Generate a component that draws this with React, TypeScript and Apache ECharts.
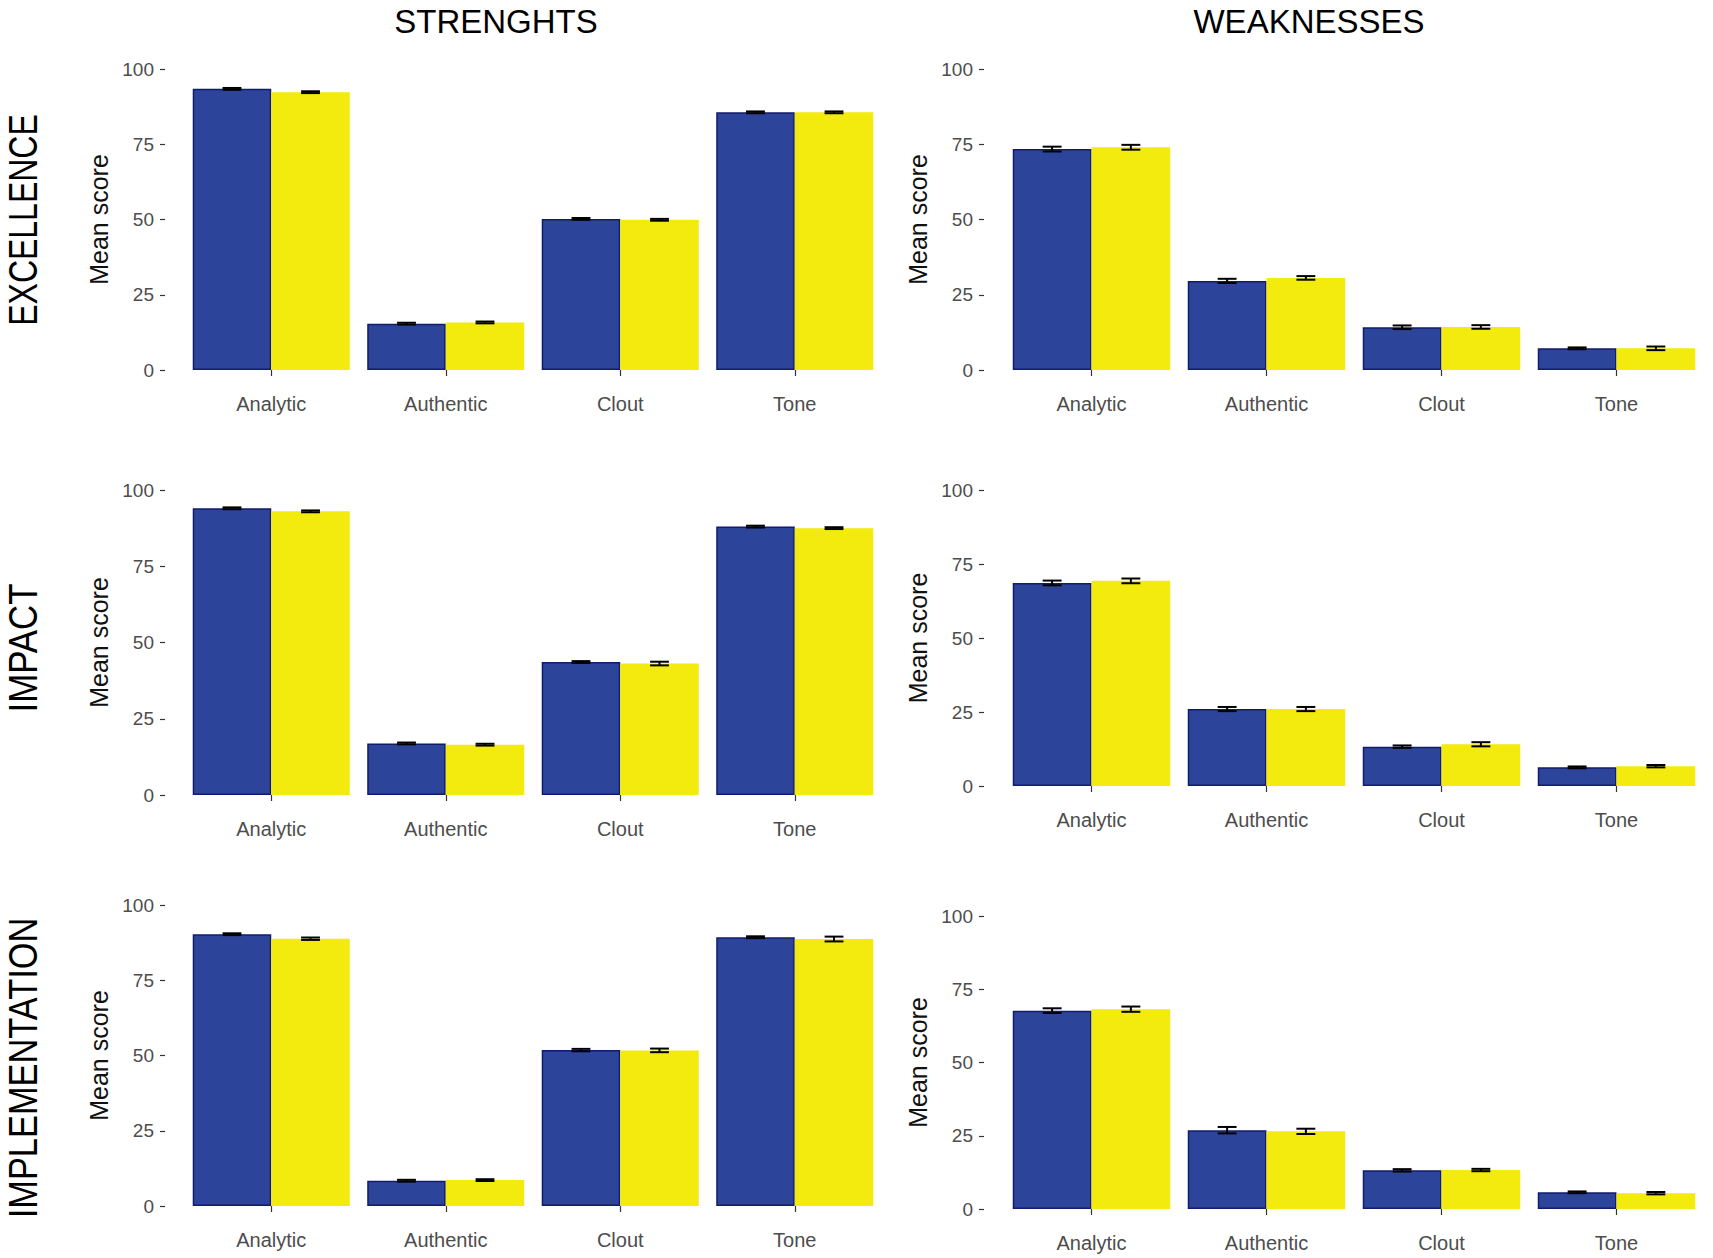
import React, { useEffect, useRef } from "react";
import * as echarts from "echarts";

// ---------- data ----------
const categories = ["Analytic", "Authentic", "Clout", "Tone"];
const yTicks = [0, 25, 50, 75, 100];
const columnTitles = ["STRENGHTS", "WEAKNESSES"];
const rowTitles = ["EXCELLENCE", "IMPACT", "IMPLEMENTATION"];

// Strengths
const excStrBlue = [93.4, 15.4, 50.2, 85.6];
const excStrBlueErr = [0.3, 0.3, 0.3, 0.3];
const excStrYellow = [92.3, 15.8, 49.9, 85.6];
const excStrYellowErr = [0.3, 0.3, 0.3, 0.3];

const impStrBlue = [94.0, 16.9, 43.6, 88.0];
const impStrBlueErr = [0.3, 0.3, 0.3, 0.3];
const impStrYellow = [93.0, 16.5, 43.1, 87.5];
const impStrYellowErr = [0.3, 0.3, 0.6, 0.3];

const implStrBlue = [90.3, 8.4, 51.8, 89.3];
const implStrBlueErr = [0.3, 0.3, 0.4, 0.3];
const implStrYellow = [88.8, 8.6, 51.7, 88.7];
const implStrYellowErr = [0.4, 0.3, 0.6, 0.8];

// Weaknesses
const excWeakBlue = [73.4, 29.6, 14.2, 7.2];
const excWeakBlueErr = [0.8, 0.7, 0.6, 0.3];
const excWeakYellow = [74.0, 30.6, 14.3, 7.2];
const excWeakYellowErr = [0.8, 0.6, 0.6, 0.6];

const impWeakBlue = [68.6, 26.0, 13.3, 6.3];
const impWeakBlueErr = [0.8, 0.7, 0.4, 0.3];
const impWeakYellow = [69.3, 26.0, 14.1, 6.7];
const impWeakYellowErr = [0.8, 0.7, 0.7, 0.4];

const implWeakBlue = [67.7, 26.9, 13.2, 5.7];
const implWeakBlueErr = [0.8, 1.1, 0.4, 0.3];
const implWeakYellow = [68.2, 26.5, 13.3, 5.4];
const implWeakYellowErr = [0.9, 0.9, 0.4, 0.4];

const panelsData = [
  { blue: excStrBlue, blueErr: excStrBlueErr, yellow: excStrYellow, yellowErr: excStrYellowErr },
  { blue: excWeakBlue, blueErr: excWeakBlueErr, yellow: excWeakYellow, yellowErr: excWeakYellowErr },
  { blue: impStrBlue, blueErr: impStrBlueErr, yellow: impStrYellow, yellowErr: impStrYellowErr },
  { blue: impWeakBlue, blueErr: impWeakBlueErr, yellow: impWeakYellow, yellowErr: impWeakYellowErr },
  { blue: implStrBlue, blueErr: implStrBlueErr, yellow: implStrYellow, yellowErr: implStrYellowErr },
  { blue: implWeakBlue, blueErr: implWeakBlueErr, yellow: implWeakYellow, yellowErr: implWeakYellowErr },
];

// ---------- layout ----------
const W = 1713;
const H = 1258;
const panelLayout = [
  { left: 184, width: 698, top: 69, height: 301, yOffset: 19 },
  { left: 1004, width: 700, top: 69, height: 301, yOffset: 20 },
  { left: 184, width: 698, top: 490, height: 305, yOffset: 19 },
  { left: 1004, width: 700, top: 490, height: 296, yOffset: 20 },
  { left: 184, width: 698, top: 905, height: 301, yOffset: 19 },
  { left: 1004, width: 700, top: 916, height: 293, yOffset: 20 },
];
const rowLayout = [
  { y: 220, scale: 0.8 },
  { y: 648, scale: 0.87 },
  { y: 1068, scale: 0.86 },
];
const colX = [496, 1309];

const BLUE = "#2C4499";
const BLUE_BORDER = "#131B6C";
const YELLOW = "#F3EA0E";
const FONT = "Liberation Sans, Arial, sans-serif";

function errorRender(side: number) {
  return (params: any, api: any) => {
    const cat = api.value(0);
    const mean = api.value(1);
    const err = api.value(2);
    const band = api.size([1, 0])[0];
    const barW = band * 0.45;
    const cx = api.coord([cat, mean])[0] + (side * barW) / 2;
    const yTop = api.coord([cat, mean + err])[1];
    const yBot = api.coord([cat, mean - err])[1];
    const half = barW * 0.12;
    const style = { stroke: "#000", lineWidth: 2 };
    return {
      type: "group",
      children: [
        { type: "line", shape: { x1: cx, y1: yTop, x2: cx, y2: yBot }, style },
        { type: "line", shape: { x1: cx - half, y1: yTop, x2: cx + half, y2: yTop }, style },
        { type: "line", shape: { x1: cx - half, y1: yBot, x2: cx + half, y2: yBot }, style },
      ],
    };
  };
}

function buildOption() {
  const grid: any[] = [];
  const xAxis: any[] = [];
  const yAxis: any[] = [];
  const series: any[] = [];

  panelLayout.forEach((p, i) => {
    grid.push({ left: p.left, top: p.top, width: p.width, height: p.height, containLabel: false });
    xAxis.push({
      type: "category",
      gridIndex: i,
      data: categories,
      offset: 15,
      axisLine: { show: false },
      axisTick: { show: true, alignWithLabel: true, length: 6, lineStyle: { color: "#333", width: 1.2 } },
      axisLabel: { fontSize: 20, color: "#4d4d4d", margin: 9, fontFamily: FONT },
      splitLine: { show: false },
    });
    yAxis.push({
      type: "value",
      gridIndex: i,
      min: 0,
      max: 100,
      interval: 25,
      offset: p.yOffset,
      name: "Mean score",
      nameLocation: "middle",
      nameGap: 54,
      nameTextStyle: { fontSize: 25, color: "#111", fontFamily: FONT },
      axisLine: { show: false },
      axisTick: { show: true, length: 5, lineStyle: { color: "#333", width: 1.2 } },
      axisLabel: {
        fontSize: 19,
        color: "#4d4d4d",
        margin: 11,
        fontFamily: FONT,
        formatter: (v: number) => (yTicks.indexOf(v) >= 0 ? String(v) : ""),
      },
      splitLine: { show: false },
    });
    const d = panelsData[i];
    series.push({
      type: "bar",
      xAxisIndex: i,
      yAxisIndex: i,
      data: d.blue,
      barGap: "0%",
      barCategoryGap: "10%",
      itemStyle: { color: BLUE, borderColor: BLUE_BORDER, borderWidth: 1.5 },
    });
    series.push({
      type: "bar",
      xAxisIndex: i,
      yAxisIndex: i,
      data: d.yellow,
      barGap: "0%",
      barCategoryGap: "10%",
      itemStyle: { color: YELLOW },
    });
    series.push({
      type: "custom",
      xAxisIndex: i,
      yAxisIndex: i,
      renderItem: errorRender(-1),
      data: d.blue.map((v, k) => [k, v, d.blueErr[k]]),
      z: 5,
    });
    series.push({
      type: "custom",
      xAxisIndex: i,
      yAxisIndex: i,
      renderItem: errorRender(1),
      data: d.yellow.map((v, k) => [k, v, d.yellowErr[k]]),
      z: 5,
    });
  });

  const graphic: any[] = [];
  columnTitles.forEach((t, i) => {
    graphic.push({
      type: "text",
      x: colX[i],
      y: 21,
      style: {
        text: t,
        fontSize: 33,
        fontFamily: FONT,
        fill: "#000",
        align: "center",
        verticalAlign: "middle",
      },
    });
  });
  rowTitles.forEach((t, i) => {
    graphic.push({
      type: "text",
      x: 23,
      y: rowLayout[i].y,
      rotation: Math.PI / 2,
      scaleX: rowLayout[i].scale,
      style: {
        text: t,
        fontSize: 40,
        fontFamily: FONT,
        fill: "#000",
        align: "center",
        verticalAlign: "middle",
      },
    });
  });

  return {
    animation: false,
    backgroundColor: "#fff",
    grid,
    xAxis,
    yAxis,
    series,
    graphic,
  };
}

export default function App() {
  const ref = useRef<HTMLDivElement>(null);
  useEffect(() => {
    if (!ref.current) return;
    const chart = echarts.init(ref.current, null, { renderer: "svg" });
    chart.setOption(buildOption() as any);
    return () => chart.dispose();
  }, []);
  return (
    <div
      ref={ref}
      style={{ position: "absolute", left: 0, top: 0, width: W, height: H, background: "#fff" }}
    />
  );
}
